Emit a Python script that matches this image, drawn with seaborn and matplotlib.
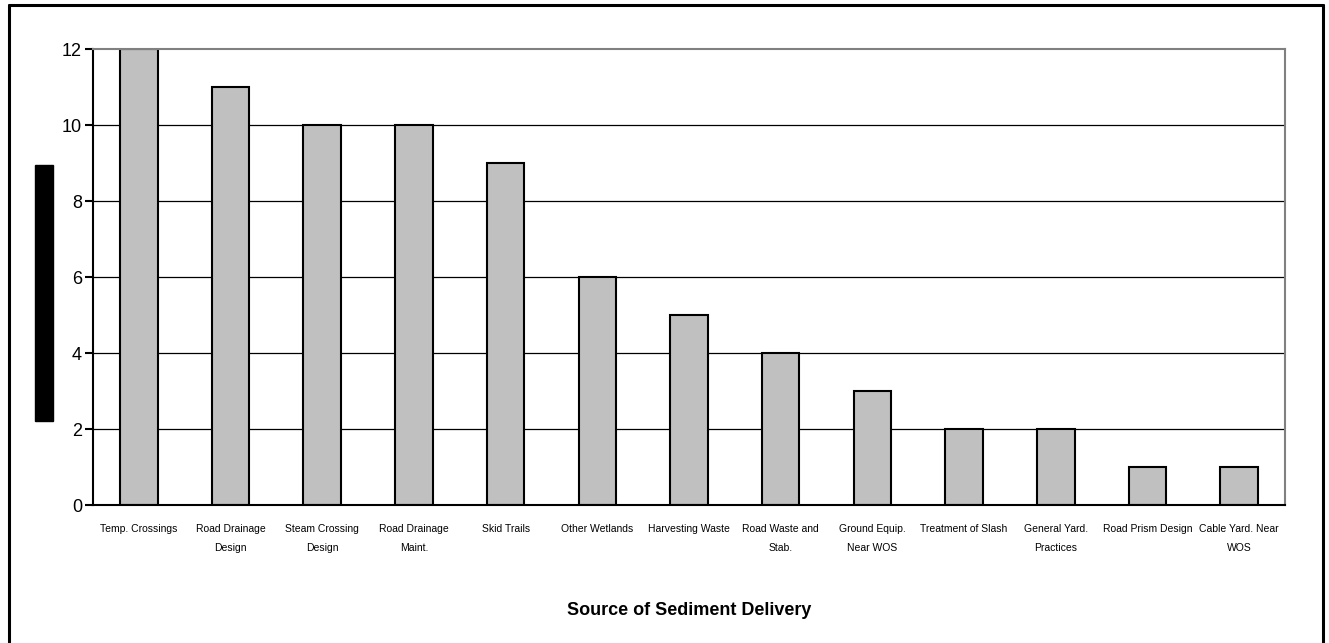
import matplotlib
matplotlib.use("Agg")
import matplotlib.pyplot as plt
from matplotlib.patches import Rectangle
from matplotlib.lines import Line2D
import seaborn as sns
import pandas as pd
import numpy as np

# chart data
categories = [
    "Temp. Crossings", "Road Drainage\nDesign", "Steam Crossing\nDesign",
    "Road Drainage\nMaint.", "Skid Trails", "Other Wetlands", "Harvesting Waste",
    "Road Waste and\nStab.", "Ground Equip.\nNear WOS", "Treatment of Slash",
    "General Yard.\nPractices", "Road Prism Design", "Cable Yard. Near\nWOS",
]
counts = [12, 11, 10, 10, 9, 6, 5, 4, 3, 2, 2, 1, 1]
y_ticks = [0, 2, 4, 6, 8, 10, 12]
x_title = "Source of Sediment Delivery"

sns.set_theme(style="white")
plt.rcParams["font.family"] = ["Liberation Sans", "DejaVu Sans"]
plt.rcParams["text.color"] = "black"
plt.rcParams["xtick.color"] = "black"
plt.rcParams["ytick.color"] = "black"
plt.rcParams["axes.labelcolor"] = "black"

df = pd.DataFrame({"source": categories, "count": counts})

fig = plt.figure(figsize=(13.29, 6.43), dpi=100)
ax = fig.add_axes([93 / 1329, 138 / 643, 1192 / 1329, 456 / 643])

sns.barplot(data=df, x="source", y="count", order=categories, color="#c0c0c0",
            edgecolor="black", linewidth=1.5, width=0.41, saturation=1, ax=ax)

ax.set_ylim(0, 12)
ax.set_xlim(-0.5, len(categories) - 0.5)
ax.set_yticks(y_ticks)
ax.set_yticklabels([str(v) for v in y_ticks], fontsize=13)
for v in y_ticks[1:-1]:
    ax.axhline(v, color="black", linewidth=0.9, zorder=0)

ax.set_xticks(range(len(categories)))
ax.set_xticklabels(categories, fontsize=7.5, linespacing=2.2)
ax.set_xticks(np.arange(-0.5, len(categories)), minor=True)
ax.tick_params(axis="x", which="major", length=0, pad=13.5)
ax.tick_params(axis="x", which="minor", length=6, width=1.5, color="black", direction="out")
ax.tick_params(axis="y", length=6, width=1.5, color="black", direction="out", left=True, pad=2)

ax.set_xlabel(x_title, fontsize=13, fontweight="bold", labelpad=35)
ax.set_ylabel("")

for side in ["left", "bottom"]:
    ax.spines[side].set_color("black")
    ax.spines[side].set_linewidth(1.5)
for side in ["top", "right"]:
    ax.spines[side].set_color("#808080")
    ax.spines[side].set_linewidth(1.5)

# outer chart frame (bottom edge falls outside the image)
W, H = 1329, 643
for xs, ys in [((8.5, 8.5), (-10, 638)), ((8.5, 1322.5), (638, 638)), ((1322.5, 1322.5), (638, -10))]:
    fig.add_artist(Line2D([x / W for x in xs], [y / H for y in ys], color="black", linewidth=2.2))

# redacted y-axis title
fig.add_artist(Rectangle((35 / W, (H - 421) / H), 18 / W, 256 / H, color="black"))

fig.savefig("out.png", dpi=100)
